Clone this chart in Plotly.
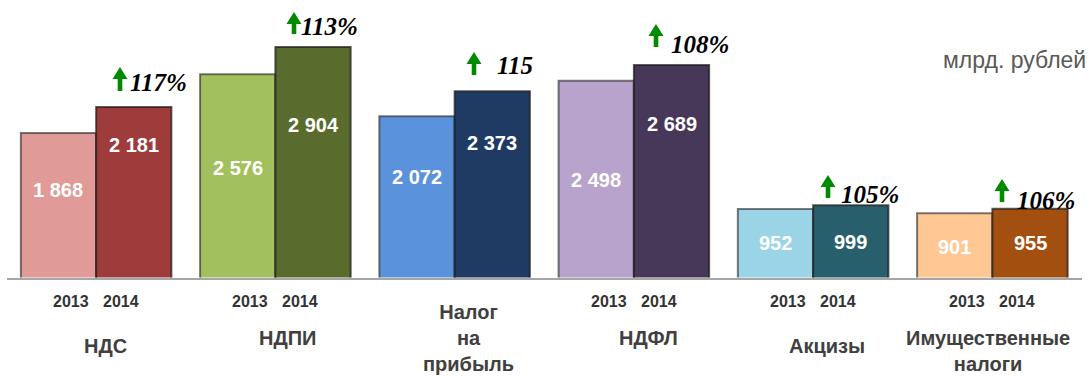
import plotly.graph_objects as go

# Tax revenues, billion rubles
categories = ["НДС", "НДПИ", "Налог<br>на<br>прибыль", "НДФЛ", "Акцизы", "Имущественные<br>налоги"]
values_2013 = [1868, 2576, 2072, 2498, 952, 901]
values_2014 = [2181, 2904, 2373, 2689, 999, 955]
growth_labels = ["117%", "113%", "115", "108%", "105%", "106%"]
year_labels = ["2013", "2014"]
show_years = [True, True, False, True, True, True]
unit_label = "млрд. рублей"

colors_2013 = ["#E09A98", "#A2C05E", "#5A93DB", "#B8A3CC", "#9AD4E6", "#FEC794"]
colors_2014 = ["#9E3B3B", "#5A6B2E", "#1F3B63", "#473859", "#275F6D", "#A34F10"]

W, H = 1091, 376
BASE_PX, TOP_PX = 277.5, 10
Y_MIN, PX_PER_UNIT = 128, 0.083
Y_MAX = Y_MIN + (BASE_PX - TOP_PX) / PX_PER_UNIT

SANS = "Liberation Sans, Arial"
SERIF = "Liberation Serif, Times New Roman"


def px(x):
    return x / W


def py(y):
    return 1 - y / H


def fmt(v):
    return f"{v:,}".replace(",", " ")


x_pos = list(range(len(categories)))
bar_w = 0.42

fig = go.Figure()
fig.add_trace(go.Bar(
    x=x_pos, y=values_2013, width=bar_w, offset=-bar_w,
    marker=dict(color=colors_2013, line=dict(color="rgba(35,35,35,0.6)", width=2)),
    name="2013", hoverinfo="skip",
))
fig.add_trace(go.Bar(
    x=x_pos, y=values_2014, width=bar_w, offset=0,
    marker=dict(color=colors_2014, line=dict(color="rgba(25,25,25,0.7)", width=2)),
    name="2014", hoverinfo="skip",
))

annotations = []

# value labels inside bars (pixel heights of the label centres)
label_y_2013 = [190, 168, 177, 180, 243, 247]
label_y_2014 = [145, 125, 143, 124, 242, 243]
for i in x_pos:
    for xo, vals, ys in ((-bar_w / 2, values_2013, label_y_2013), (bar_w / 2, values_2014, label_y_2014)):
        annotations.append(dict(x=i + xo, y=py(ys[i]), xref="x", yref="paper",
                                text=f"<b>{fmt(vals[i])}</b>", showarrow=False,
                                font=dict(family=SANS, size=20, color="white"),
                                xanchor="center", yanchor="middle"))
    # year labels below the baseline
    if show_years[i]:
        for j, yl in enumerate(year_labels):
            annotations.append(dict(x=i - 0.14 + 0.28 * j, y=py(301), xref="x", yref="paper",
                                    text=f"<b>{yl}</b>", showarrow=False,
                                    font=dict(family=SANS, size=16, color="#333333"),
                                    xanchor="center", yanchor="middle"))

# category names
cat_pos = [(105, 346), (287, 338), (468, 338), (648, 338), (827, 346), (988, 351)]
for i, name in enumerate(categories):
    cx, cy = cat_pos[i]
    annotations.append(dict(x=px(cx), y=py(cy), xref="paper", yref="paper",
                            text=f"<b>{name}</b>", showarrow=False,
                            font=dict(family=SANS, size=20, color="#404040"),
                            xanchor="center", yanchor="middle", align="center"))

# growth labels with green up arrows
growth_text_pos = [(158, 83), (329, 27), (515, 66), (700, 44), (870, 194), (1046, 200)]
arrow_pos = [(120, 67, 91), (294, 12, 34), (474, 52, 75), (656, 24, 47), (828, 175, 198), (1002, 179, 202)]
shapes = []
for i, g in enumerate(growth_labels):
    tx, ty = growth_text_pos[i]
    annotations.append(dict(x=px(tx), y=py(ty), xref="paper", yref="paper",
                            text=f"<b><i>{g}</i></b>", showarrow=False,
                            font=dict(family=SERIF, size=25, color="black"),
                            xanchor="center", yanchor="middle"))
    ax, atop, abot = arrow_pos[i]
    hw, hh, sw = 7.5, 12, 2.3
    pts = [(ax, atop), (ax + hw, atop + hh), (ax + sw, atop + hh), (ax + sw, abot),
           (ax - sw, abot), (ax - sw, atop + hh), (ax - hw, atop + hh)]
    path = "M " + " L ".join(f"{px(x):.5f},{py(y):.5f}" for x, y in pts) + " Z"
    shapes.append(dict(type="path", xref="paper", yref="paper", path=path,
                       fillcolor="#008A00", line=dict(width=0)))

annotations.append(dict(x=px(1088), y=py(60), xref="paper", yref="paper",
                        text=unit_label, showarrow=False,
                        font=dict(family=SANS, size=23, color="#595959"),
                        xanchor="right", yanchor="middle"))

fig.update_layout(
    width=W, height=H,
    margin=dict(l=0, r=0, t=0, b=0),
    paper_bgcolor="white", plot_bgcolor="white",
    showlegend=False,
    barmode="overlay",
    annotations=annotations,
    shapes=shapes,
    xaxis=dict(range=[-0.5, len(categories) - 0.5], domain=[px(6.5), px(1082)],
               showticklabels=False, ticks="", showgrid=False, zeroline=False,
               showline=True, linecolor="#A6A6A6", linewidth=1.5, fixedrange=True),
    yaxis=dict(range=[Y_MIN, Y_MAX], domain=[py(BASE_PX), py(TOP_PX)],
               visible=False, showgrid=False, zeroline=False, fixedrange=True),
)

fig.write_html("out.html")
